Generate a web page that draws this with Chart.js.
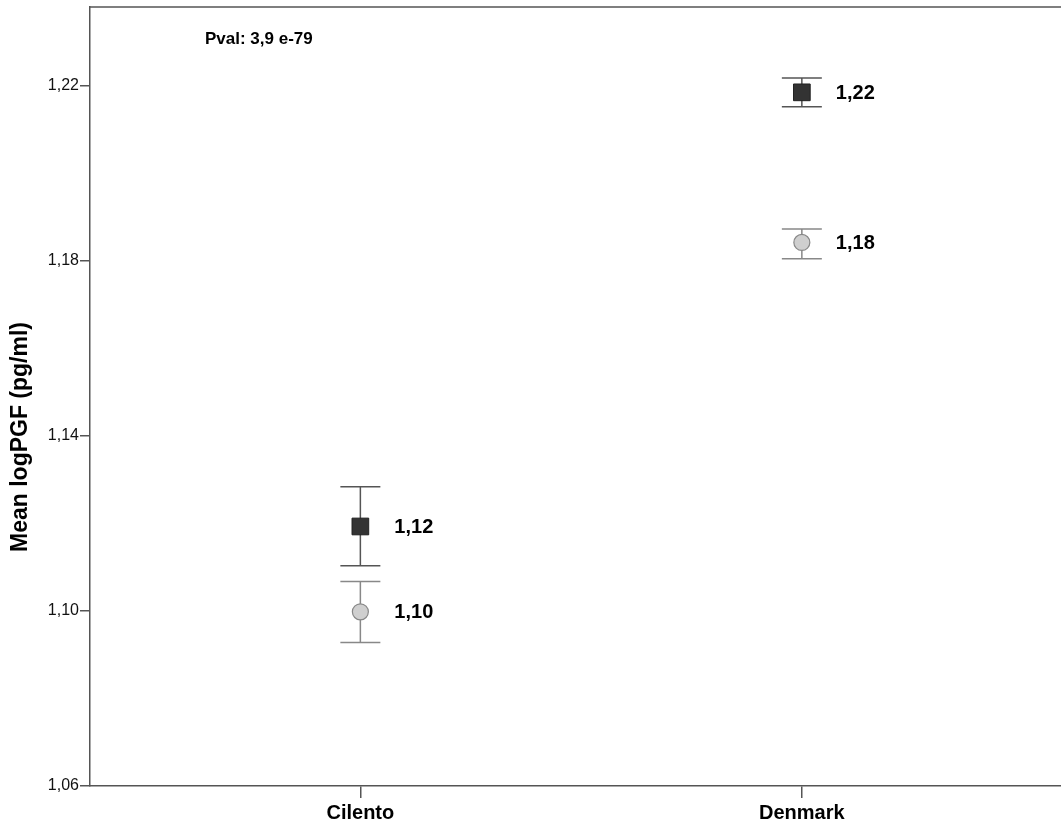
<!DOCTYPE html>
<html>
<head>
<meta charset="utf-8">
<script src="https://cdn.jsdelivr.net/npm/chart.js@4"></script>
<style>
  html, body { margin: 0; padding: 0; background: #fff; overflow: hidden; }
  #wrap { width: 1061px; height: 824px; }
</style>
</head>
<body>
<div id="wrap"><canvas id="myChart"></canvas></div>
<script>
// datos
var categorias = ['Cilento', 'Denmark'];
var mediaCuadro = [1.1193, 1.2185];
var bajoCuadro = [1.1103, 1.2152];
var altoCuadro = [1.1284, 1.2218];
var mediaCirculo = [1.0998, 1.1842];
var bajoCirculo = [1.0928, 1.1805];
var altoCirculo = [1.1067, 1.1873];
var ticksY = [1.06, 1.10, 1.14, 1.18, 1.22];
var textoPval = 'Pval: 3,9 e-79';
var tituloY = 'Mean logPGF (pg/ml)';

function coma(v) {
	return v.toFixed(2).replace('.', ',');
}

function puntos(medias) {
	return medias.map(function (m, i) { return { x: i + 1, y: m }; });
}

var FUENTE = 'Arial, "Liberation Sans", sans-serif';

// barras de error, etiquetas y textos
var extras = {
	id: 'extras',
	beforeDatasetsDraw: function (chart) {
		var ctx = chart.ctx;
		var sx = chart.scales.x, sy = chart.scales.y;
		var grupos = [
			{ lo: bajoCuadro, hi: altoCuadro, color: '#555' },
			{ lo: bajoCirculo, hi: altoCirculo, color: '#888' }
		];
		ctx.save();
		grupos.forEach(function (g) {
			ctx.strokeStyle = g.color;
			ctx.lineWidth = 1.5;
			for (var i = 0; i < categorias.length; i++) {
				var px = sx.getPixelForValue(i + 1);
				var y1 = sy.getPixelForValue(g.lo[i]);
				var y2 = sy.getPixelForValue(g.hi[i]);
				ctx.beginPath();
				ctx.moveTo(px, y1); ctx.lineTo(px, y2);
				ctx.moveTo(px - 20, y1); ctx.lineTo(px + 20, y1);
				ctx.moveTo(px - 20, y2); ctx.lineTo(px + 20, y2);
				ctx.stroke();
			}
		});
		// linea superior del marco
		var a = chart.chartArea;
		ctx.strokeStyle = '#555';
		ctx.beginPath();
		ctx.moveTo(a.left, a.top); ctx.lineTo(a.right, a.top);
		ctx.stroke();
		ctx.restore();
	},
	afterDatasetsDraw: function (chart) {
		var ctx = chart.ctx;
		var a = chart.chartArea;
		ctx.save();
		ctx.fillStyle = '#000';
		ctx.textBaseline = 'middle';
		ctx.textAlign = 'left';
		ctx.font = 'bold 20px ' + FUENTE;
		chart.data.datasets.forEach(function (ds, di) {
			chart.getDatasetMeta(di).data.forEach(function (el, i) {
				ctx.fillText(coma(ds.data[i].y), el.x + 34, el.y + 1);
			});
		});
		ctx.font = 'bold 17px ' + FUENTE;
		ctx.fillText(textoPval, a.left + 115, a.top + 32);
		// titulo del eje y
		ctx.font = 'bold 23px ' + FUENTE;
		ctx.translate(21, 437);
		ctx.rotate(-Math.PI / 2);
		ctx.textAlign = 'center';
		ctx.fillText(tituloY, 0, 0);
		ctx.restore();
	}
};

var grafica = new Chart(document.getElementById('myChart'), {
	type: 'scatter',
	data: {
		datasets: [
			{
				label: 'cuadro',
				data: puntos(mediaCuadro),
				pointStyle: 'rect',
				pointRadius: 11.8,
				pointHoverRadius: 11.8,
				backgroundColor: '#333',
				borderColor: '#222',
				borderWidth: 1
			},
			{
				label: 'circulo',
				data: puntos(mediaCirculo),
				pointStyle: 'circle',
				pointRadius: 8,
				pointHoverRadius: 8,
				backgroundColor: '#cfcfcf',
				borderColor: '#888',
				borderWidth: 1.2
			}
		]
	},
	options: {
		responsive: true,
		maintainAspectRatio: false,
		animation: false,
		layout: { autoPadding: false, padding: { top: 7, left: 0, right: 0, bottom: 0 } },
		plugins: {
			legend: { display: false },
			tooltip: { enabled: false }
		},
		scales: {
			x: {
				type: 'linear',
				min: 0.3876,
				max: 2.587,
				afterBuildTicks: function (s) {
					s.ticks = categorias.map(function (c, i) { return { value: i + 1 }; });
				},
				afterFit: function (s) {
					s.height = 38;
					s.paddingLeft = 0; s.paddingRight = 0;
				},
				ticks: {
					color: '#000',
					padding: 3,
					maxRotation: 0,
					font: { family: FUENTE, size: 20, weight: 'bold' },
					callback: function (v) { return categorias[v - 1]; }
				},
				grid: {
					drawOnChartArea: false,
					drawTicks: true,
					tickLength: 12,
					color: '#555',
					lineWidth: 1.5
				},
				border: { display: true, color: '#555', width: 1.5 }
			},
			y: {
				min: 1.06,
				max: 1.238,
				afterBuildTicks: function (s) {
					s.ticks = ticksY.map(function (v) { return { value: v }; });
				},
				afterFit: function (s) {
					s.width = 90;
					s.paddingTop = 0; s.paddingBottom = 0;
				},
				ticks: {
					color: '#111',
					padding: 1,
					font: { family: FUENTE, size: 16 },
					callback: function (v) { return coma(v); }
				},
				grid: {
					drawOnChartArea: false,
					drawTicks: true,
					tickLength: 10,
					color: '#555',
					lineWidth: 1.5
				},
				border: { display: true, color: '#555', width: 1.5 }
			}
		}
	},
	plugins: [extras]
});
</script>
</body>
</html>
